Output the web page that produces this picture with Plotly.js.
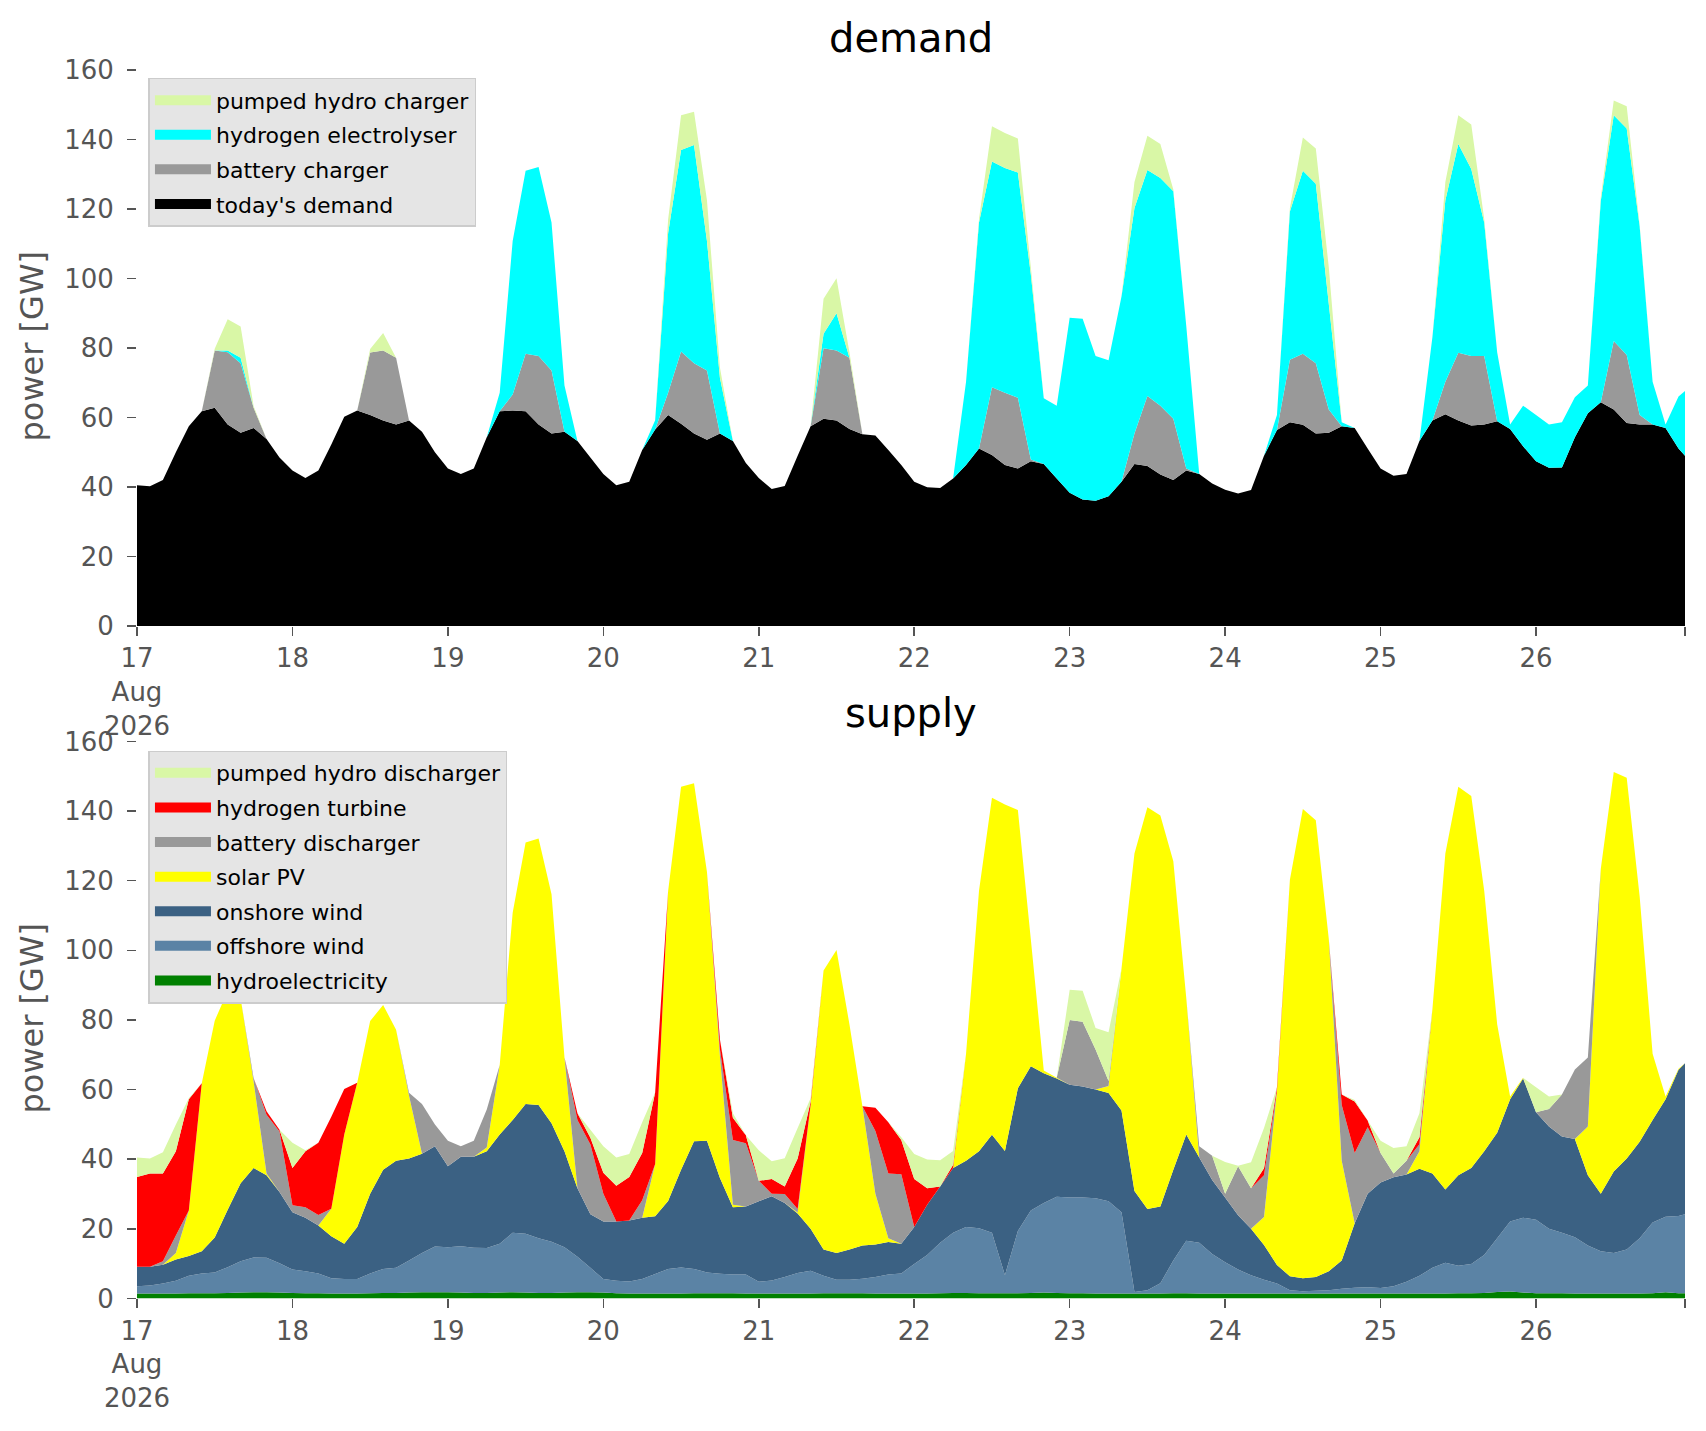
<!DOCTYPE html>
<html>
<head>
<meta charset="utf-8">
<script src="https://cdn.plot.ly/plotly-3.0.1.min.js"></script>
<style>
    body { margin: 0; background: #ffffff; }
    #chart { width: 1706px; height: 1431px; }
</style>
</head>
<body>
<div id="chart"></div>
<script>
// sample hours from 17 Aug 2026 00:00 (every 2 h, plus the last hour)
const hours = [];
for (let h = 0; h < 240; h += 2) hours.push(h);
hours.push(239);

const dayTicks = [17, 18, 19, 20, 21, 22, 23, 24, 25, 26];

// demand side [GW]
const todaysDemand = [
    40.5, 40.2, 42, 50, 57.5, 61.8, 62.8, 58, 55.6, 57, 53.8, 48.5,
    44.7, 42.6, 44.7, 52.2, 60.2, 62, 60.7, 59.1, 58, 59.1, 55.9, 50,
    45.3, 43.7, 45.3, 54.3, 61.8, 62, 61.8, 58, 55.4, 55.9, 53.2, 48.5,
    43.7, 40.5, 41.5, 50.6, 56.5, 60.7, 58.2, 55.4, 53.6, 55.4, 53.2, 46.9,
    42.6, 39.4, 40.3, 49, 57.5, 59.6, 59.1, 56.7, 55.2, 54.8, 50.6, 46.3,
    41.5, 39.9, 39.7, 42.4, 46.3, 51.1, 49.2, 46.3, 45.3, 47.4, 46.6, 42.4,
    38.3, 36.4, 36, 37.3, 41.5, 46.6, 46, 43.6, 42, 44.7, 43.7, 41,
    39.2, 38.1, 39.1, 49, 56.4, 58.6, 57.9, 55.4, 55.6, 57.5, 57, 51.1,
    45.3, 43.2, 43.7, 53.2, 59.1, 60.9, 59.1, 57.7, 58, 58.9, 56.7, 51.7,
    47.4, 45.5, 45.6, 54.3, 61.2, 64.4, 62.3, 58.4, 58, 58, 57, 51.1,
    49
];
const batteryCharger = [
    0, 0, 0, 0, 0, 0, 16.5, 20.8, 20, 5.8, 0, 0,
    0, 0, 0, 0, 0, 0, 18, 20.2, 19.2, 0, 0, 0,
    0, 0, 0, 0, 0, 4.6, 16.5, 19.7, 18.1, 0, 0, 0,
    0, 0, 0, 0, 0, 6.4, 20.8, 20.2, 19.9, 0, 0, 0,
    0, 0, 0, 0, 0, 20.3, 20.2, 20.5, 0, 0, 0, 0,
    0, 0, 0, 0, 0, 0, 19.5, 20.8, 20.4, 0.5, 0, 0,
    0, 0, 0, 0, 0, 8.8, 20.2, 19.8, 17.6, 0.6, 0, 0,
    0, 0, 0, 0, 0, 18, 20.4, 20.2, 6.7, 0, 0, 0,
    0, 0, 0, 0, 0, 9.4, 19.5, 20, 19.7, 0, 0, 0,
    0, 0, 0, 0, 0, 0, 19.7, 19.6, 2.7, 0, 0, 0,
    0
];
const hydrogenElectrolyser = [
    0, 0, 0, 0, 0, 0, 0, 0.5, 1.6, 0, 0, 0,
    0, 0, 0, 0, 0, 0, 0, 0, 0, 0, 0, 0,
    0, 0, 0, 0, 5.3, 44.2, 52.7, 54.4, 42.6, 13.3, 0, 0,
    0, 0, 0, 0, 2.7, 45.9, 58, 62.8, 37.3, 16, 0, 0,
    0, 0, 0, 0, 0, 4.2, 10.7, 0, 0, 0, 0, 0,
    0, 0, 0, 0, 24, 65, 65, 64.7, 64.8, 53.3, 18.9, 21,
    50.4, 52, 41.7, 39.2, 53.3, 64.9, 65, 65.5, 65.5, 41, 0, 0,
    0, 0, 0, 0, 4.3, 42.7, 52.7, 51.7, 30.4, 1.1, 0, 0,
    0, 0, 0, 0, 24, 52.2, 60.1, 53.8, 38.4, 19.9, 1.3, 11.7,
    13.3, 12.5, 13, 11.5, 8, 58, 65, 65.2, 54.3, 12.3, 1, 14.9,
    18.6
];
const pumpedHydroCharger = [
    0, 0, 0, 0, 0, 0, 0.5, 9, 9, 0.5, 0, 0,
    0, 0, 0, 0, 0, 0, 1, 5, 0, 0, 0, 0,
    0, 0, 0, 0, 0, 0, 0, 0, 0, 0, 0, 0,
    0, 0, 0, 0, 0, 4, 10, 9.6, 11.7, 3, 0, 0,
    0, 0, 0, 0, 0, 10.1, 10.1, 1.5, 0, 0, 0, 0,
    0, 0, 0, 0, 0, 1, 10.1, 10.1, 9.8, 2, 0, 0,
    0, 0, 0, 0, 0, 7.5, 9.9, 9.8, 0.5, 0, 0, 0,
    0, 0, 0, 0, 0, 1, 9.6, 10.1, 10.6, 0, 0, 0,
    0, 0, 0, 0, 0, 5.3, 8.3, 12.8, 1, 0, 0, 0,
    0, 0, 0, 0, 0, 1, 4.2, 6.4, 0.5, 0, 0, 0,
    0
];

// supply side [GW]
const hydroelectricity = [
    1.4, 1.4, 1.4, 1.4, 1.5, 1.5, 1.5, 1.6, 1.7, 1.8, 1.8, 1.7,
    1.6, 1.5, 1.5, 1.4, 1.4, 1.4, 1.5, 1.6, 1.6, 1.7, 1.8, 1.8,
    1.8, 1.7, 1.6, 1.6, 1.7, 1.8, 1.7, 1.6, 1.6, 1.7, 1.8, 1.8,
    1.7, 1.5, 1.4, 1.4, 1.4, 1.4, 1.4, 1.5, 1.5, 1.5, 1.5, 1.4,
    1.4, 1.4, 1.4, 1.4, 1.4, 1.5, 1.5, 1.5, 1.5, 1.4, 1.4, 1.4,
    1.4, 1.4, 1.5, 1.6, 1.6, 1.5, 1.5, 1.5, 1.5, 1.6, 1.7, 1.6,
    1.5, 1.5, 1.4, 1.4, 1.4, 1.4, 1.4, 1.4, 1.5, 1.5, 1.4, 1.4,
    1.4, 1.4, 1.4, 1.4, 1.4, 1.4, 1.4, 1.4, 1.4, 1.4, 1.4, 1.4,
    1.4, 1.4, 1.4, 1.4, 1.4, 1.4, 1.5, 1.5, 1.6, 1.9, 2.0, 1.7,
    1.5, 1.5, 1.5, 1.4, 1.4, 1.4, 1.4, 1.4, 1.4, 1.5, 1.8, 1.5,
    1.5
];
const offshoreWind = [
    2.1, 2.3, 2.9, 3.7, 5.0, 5.7, 6.0, 7.4, 9.0, 10.0, 9.9, 8.4,
    6.7, 6.3, 5.7, 4.4, 4.2, 4.2, 5.7, 6.9, 7.2, 9.2, 11.3, 13.1,
    12.9, 13.3, 13.0, 12.9, 14.0, 17.1, 16.9, 15.7, 14.7, 13.0, 10.2, 7.0,
    3.9, 3.6, 3.5, 4.2, 5.6, 7.1, 7.5, 7.0, 6.0, 5.6, 5.4, 5.5,
    3.4, 3.8, 4.8, 5.9, 6.6, 5.0, 3.9, 3.9, 4.2, 4.8, 5.5, 5.8,
    8.5, 11.1, 14.5, 17.3, 18.9, 18.7, 17.4, 5.2, 17.9, 23.7, 25.7, 27.6,
    27.5, 27.5, 27.4, 26.5, 23.4, 0.5, 1.0, 3.0, 9.4, 15.1, 14.6, 11.4,
    9.0, 6.9, 5.3, 4.0, 2.9, 1.0, 0.7, 0.8, 1.0, 1.4, 1.7, 1.8,
    1.6, 2.1, 3.4, 5.1, 7.4, 8.9, 7.9, 8.4, 10.9, 15.4, 20.1, 21.5,
    21.1, 18.5, 17.4, 16.2, 13.8, 12.2, 11.7, 12.7, 15.9, 20.3, 21.7, 22.2,
    22.7
];
const onshoreWind = [
    5.6, 5.4, 5.4, 6.1, 5.7, 6.4, 10.0, 16.5, 22.4, 25.7, 23.7, 20.5,
    16.5, 15.4, 13.8, 12.1, 10.1, 14.9, 22.9, 28.5, 30.8, 29.3, 28.5, 28.8,
    23.3, 25.7, 26.1, 27.8, 31.4, 32.4, 37.3, 38.3, 34.0, 27.6, 19.7, 15.4,
    16.5, 17.0, 17.5, 17.6, 16.6, 19.5, 28.1, 36.7, 37.8, 27.5, 19.3, 19.5,
    23.1, 24.2, 21.2, 17.1, 12.0, 7.6, 7.7, 8.7, 9.5, 9.3, 9.3, 8.5,
    10.6, 14.4, 16.2, 18.6, 19.1, 22.1, 28.1, 35.7, 41.0, 41.4, 37.3, 34.0,
    32.4, 31.9, 31.2, 31.1, 29.2, 29.0, 23.3, 22.0, 26.1, 30.5, 24.5, 21.2,
    18.6, 15.6, 13.3, 10.0, 5.3, 4.0, 3.7, 4.0, 5.4, 8.1, 18.5, 26.9,
    30.3, 31.3, 30.8, 30.8, 27.1, 21.0, 26.0, 27.6, 29.8, 30.3, 35.1, 40.0,
    30.9, 29.4, 27.6, 28.2, 20.2, 16.5, 23.4, 26.1, 27.7, 29.5, 33.7, 42.0,
    43.4
];
const solarPV = [
    0, 0, 0, 1.9, 13.1, 48.2, 62.3, 62.8, 53.1, 24.8, 0.5, 0,
    0, 0, 0, 7.9, 31.4, 41.5, 49.6, 47.3, 37.6, 18, 0, 0,
    0, 0, 0, 1.1, 20, 59.5, 75.1, 76.5, 65.8, 26.9, 0, 0,
    0, 0, 0, 0, 15, 89, 110, 102.8, 77.2, 35, 0.7, 0,
    0, 0, 0, 0.3, 35.6, 80.1, 87, 64.6, 40, 14.6, 1.1, 0,
    0, 0, 0, 0, 30.7, 74.8, 96.8, 99.5, 79.9, 36.5, 0.8, 0.2,
    0, 0, 0, 2, 40.8, 96.9, 115.4, 112.3, 88.6, 39.2, 0, 0,
    0, 0, 0, 8, 50, 113.9, 134.8, 131.2, 95.5, 28.7, 0, 0,
    0, 0, 0, 5, 47.2, 96.5, 111.6, 106.8, 74.8, 31.2, 0.8, 0.2,
    0, 0, 0, 0, 14, 93.3, 114.7, 109.4, 70.5, 19, 0.8, 0.3,
    0
];
const batteryDischarger = [
    0, 0, 1, 5, 0, 0, 0, 0, 0, 1, 16.9, 17.4,
    2, 3, 3, 0, 0, 0, 0, 0, 0, 0.9, 14.3, 6.3,
    7.3, 3, 4.6, 10.9, 0, 0, 0, 0, 0, 0, 19.6, 20,
    8, 0, 0, 5, 0, 0, 0, 0, 0, 2, 18.6, 18.2,
    5.9, 0.7, 2.6, 1, 0, 0, 0, 0, 0, 18, 18.6, 20,
    0, 0, 0, 0, 0, 0, 0, 0, 0, 0, 0, 0,
    18.6, 18.6, 11.5, 1.5, 0, 0, 0, 0, 0, 0, 3.2, 7,
    1.1, 14.1, 11.7, 12, 0, 0, 0, 0, 0, 16, 20.2, 19.1,
    8.5, 1.1, 4, 2, 0, 0, 0, 0, 0, 0, 0, 0,
    0, 5, 12.1, 20, 19.8, 0, 0, 0, 0, 0, 0, 0,
    0
];
const hydrogenTurbine = [
    25.8, 26.8, 25.2, 24.2, 31.9, 0, 0, 0, 0, 0, 1, 0.5,
    10.7, 16.1, 20.7, 26.4, 13.1, 0, 0, 0, 0, 0, 0, 0,
    0, 0, 0, 0, 0, 0, 0, 0, 0, 0, 1.9, 2,
    6, 10.3, 12.5, 13.6, 20.6, 0, 0, 0, 0, 2.8, 6.4, 2.3,
    0, 4.2, 2.2, 14.5, 1, 0, 0, 0, 0, 6.7, 14.7, 9.8,
    13.8, 4.8, 0, 0.9, 0, 0, 0, 0, 0, 0, 0, 0,
    0, 0, 0, 0, 0, 0, 0, 0, 0, 0, 0, 0,
    0, 0, 0, 2, 1.1, 0, 0, 0, 0, 3, 14.8, 1.9,
    0, 0, 0, 2, 0, 0, 0, 0, 0, 0, 0, 0,
    0, 0, 0, 0, 0, 0, 0, 0, 0, 0, 0, 0,
    0
];
const pumpedHydroDischarger = [
    5.6, 4.3, 6.1, 7.7, 0.3, 0, 0, 0, 0, 0, 0, 0,
    7.2, 0.3, 0, 0, 0, 0, 0, 0, 0, 0, 0, 0,
    0, 0, 0, 0, 0, 0, 0, 0, 0, 0, 0, 2.3,
    7.6, 8.1, 6.6, 8.8, 0, 0, 0, 0, 0, 0, 1.3, 0,
    8.8, 5.1, 8.1, 8.8, 0.9, 0, 0, 0, 0, 0, 0, 0.8,
    7.2, 8.2, 7.5, 4, 0, 0, 0, 0, 0, 0, 0, 0,
    8.7, 8.9, 6.2, 14, 0, 0, 0, 0, 0, 0, 0, 0,
    9.1, 0.1, 7.4, 11.6, 0, 0, 0, 0, 0, 0, 0.4, 0,
    3.5, 7.3, 4.1, 6.9, 0, 0, 0, 0, 0, 0, 0, 0,
    7.2, 3.6, 0, 0, 0, 0, 0, 0, 0, 0, 0, 0,
    0
];

function stamp(h) {
    const day = 17 + Math.floor(h / 24);
    const hh = String(h % 24).padStart(2, '0');
    return '2026-08-' + day + ' ' + hh + ':00';
}
const times = hours.map(stamp);

// filled band of a stack (legend is drawn by a separate swatch trace)
function area(name, values, color, xaxis, yaxis, group) {
    return {
        x: times,
        y: values,
        name: name,
        type: 'scatter',
        mode: 'none',
        stackgroup: group,
        fillcolor: color,
        line: { width: 0 },
        xaxis: xaxis,
        yaxis: yaxis,
        showlegend: false,
        hoverinfo: 'skip'
    };
}

// empty trace that only puts a thick colour swatch in the legend
function swatch(name, color, xaxis, yaxis, legend) {
    return {
        x: [null],
        y: [null],
        name: name,
        type: 'scatter',
        mode: 'lines',
        line: { color: color, width: 14 },
        xaxis: xaxis,
        yaxis: yaxis,
        legend: legend,
        legendgroup: legend + name,
        hoverinfo: 'skip'
    };
}

// bottom of the stack first
const demandSeries = [
    ["today's demand", todaysDemand, '#000000'],
    ['battery charger', batteryCharger, '#999999'],
    ['hydrogen electrolyser', hydrogenElectrolyser, '#00ffff'],
    ['pumped hydro charger', pumpedHydroCharger, '#d9f7a6']
];
const supplySeries = [
    ['hydroelectricity', hydroelectricity, '#008000'],
    ['offshore wind', offshoreWind, '#5b83a5'],
    ['onshore wind', onshoreWind, '#3b6183'],
    ['solar PV', solarPV, '#ffff00'],
    ['battery discharger', batteryDischarger, '#999999'],
    ['hydrogen turbine', hydrogenTurbine, '#ff0000'],
    ['pumped hydro discharger', pumpedHydroDischarger, '#d9f7a6']
];

const traces = [];
demandSeries.forEach(([name, values, color]) => traces.push(area(name, values, color, 'x', 'y', 'demand')));
supplySeries.forEach(([name, values, color]) => traces.push(area(name, values, color, 'x2', 'y2', 'supply')));
// legends list the top of the stack first
demandSeries.slice().reverse().forEach(([name, , color]) => traces.push(swatch(name, color, 'x', 'y', 'legend')));
supplySeries.slice().reverse().forEach(([name, , color]) => traces.push(swatch(name, color, 'x2', 'y2', 'legend2')));

const tickVals = dayTicks.map((d) => '2026-08-' + d + ' 00:00').concat(['2026-08-26 23:00']);
const tickText = dayTicks.map((d) => (d === 17 ? '17<br>Aug<br>2026' : String(d))).concat(['']);

const tickFont = { family: 'DejaVu Sans', size: 26, color: '#555555' };

function xAxis(anchor) {
    return {
        anchor: anchor,
        domain: [0, 1],
        type: 'date',
        range: ['2026-08-17 00:00', '2026-08-26 23:00'],
        tickmode: 'array',
        tickvals: tickVals,
        ticktext: tickText,
        ticks: 'outside',
        ticklen: 9,
        tickwidth: 1.5,
        tickcolor: '#555555',
        tickfont: tickFont,
        showgrid: false,
        zeroline: false,
        showline: false
    };
}

function yAxis(anchor, domain) {
    return {
        anchor: anchor,
        domain: domain,
        range: [0, 161],
        tickmode: 'linear',
        tick0: 0,
        dtick: 20,
        ticks: 'outside',
        ticklen: 9,
        tickwidth: 1.5,
        tickcolor: '#555555',
        tickfont: tickFont,
        ticklabelstandoff: 8,
        showgrid: false,
        zeroline: false,
        showline: false,
        title: {
            text: 'power [GW]',
            standoff: 10,
            font: { family: 'DejaVu Sans', size: 32, color: '#555555' }
        }
    };
}

function legendBox(y) {
    return {
        x: 0.0074,
        y: y,
        xanchor: 'left',
        yanchor: 'top',
        bgcolor: '#e5e5e5',
        bordercolor: '#cccccc',
        borderwidth: 1.5,
        traceorder: 'grouped',
        tracegroupgap: 3,
        itemwidth: 56,
        font: { family: 'DejaVu Sans', size: 22, color: '#000000' }
    };
}

const layout = {
    width: 1706,
    height: 1431,
    margin: { l: 137, r: 21, t: 0, b: 0 },
    paper_bgcolor: '#ffffff',
    plot_bgcolor: '#ffffff',
    font: { family: 'DejaVu Sans', color: '#555555' },
    showlegend: true,
    xaxis: xAxis('y'),
    yaxis: yAxis('x', [0.5626, 0.9535]),
    xaxis2: xAxis('y2'),
    yaxis2: yAxis('x2', [0.0926, 0.4843]),
    legend: legendBox(0.9456),
    legend2: legendBox(0.4755),
    annotations: [
        {
            text: 'demand', xref: 'paper', yref: 'paper', x: 0.5, y: 0.9734,
            xanchor: 'center', yanchor: 'middle', showarrow: false,
            font: { family: 'DejaVu Sans', size: 40, color: '#000000' }
        },
        {
            text: 'supply', xref: 'paper', yref: 'paper', x: 0.5, y: 0.5017,
            xanchor: 'center', yanchor: 'middle', showarrow: false,
            font: { family: 'DejaVu Sans', size: 40, color: '#000000' }
        }
    ]
};

Plotly.newPlot('chart', traces, layout, { displayModeBar: false, staticPlot: true });
</script>
</body>
</html>
